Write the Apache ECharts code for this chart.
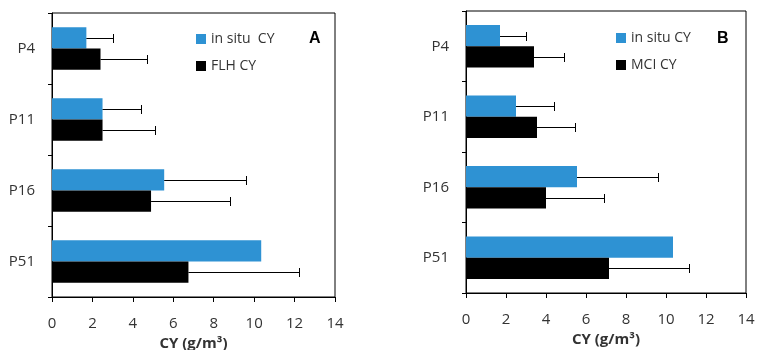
<!DOCTYPE html>
<html>
<head>
<meta charset="utf-8">
<script src="https://cdn.jsdelivr.net/npm/echarts@6/dist/echarts.min.js"></script>
<style>html,body{margin:0;padding:0;background:#fff}#c{width:757px;height:350px}</style>
</head>
<body>
<div id="c"></div>
<script>
var categories = ['P4', 'P11', 'P16', 'P51'];
var xTicks = [0, 2, 4, 6, 8, 10, 12, 14];
var inSitu = [1.7, 2.5, 5.55, 10.35];
var inSituErr = [3.0, 4.4, 9.6, null];
var flh = [2.4, 2.5, 4.9, 6.75];
var flhErr = [4.7, 5.1, 8.8, 12.2];
var mci = [3.4, 3.55, 4.0, 7.15];
var mciErr = [4.9, 5.45, 6.9, 11.15];

var FONT = 'Open Sans';
var BLUE = '#2e92d3';

function errData(vals, errs) {
  var out = [];
  for (var i = 0; i < vals.length; i++) {
    if (errs[i] != null) out.push([vals[i], i, errs[i]]);
  }
  return out;
}
function errRender(sign) {
  return function (params, api) {
    var v = api.value(0), cat = api.value(1), e = api.value(2);
    var p0 = api.coord([v, cat]);
    var p1 = api.coord([e, cat]);
    var band = api.size([0, 1])[1];
    var y = Math.round(p0[1] + sign * band * 0.15) + 0.5;
    var x1 = Math.round(p1[0]) + 0.5;
    var cap = 4.5;
    return {
      type: 'group',
      children: [
        {type: 'line', shape: {x1: p0[0], y1: y, x2: x1, y2: y}, style: {stroke: '#000', lineWidth: 1}},
        {type: 'line', shape: {x1: x1, y1: y - cap, x2: x1, y2: y + cap}, style: {stroke: '#000', lineWidth: 1}}
      ]
    };
  };
}

function xAx(idx, gap) {
  return {
    type: 'value', gridIndex: idx, min: xTicks[0], max: xTicks[xTicks.length - 1], interval: 2,
    axisLine: {show: true, lineStyle: {color: '#000', width: 1}},
    axisTick: {show: true, length: 5, lineStyle: {color: '#000'}},
    splitLine: {show: false},
    axisLabel: {color: '#333', fontFamily: FONT, fontSize: 15, margin: 19},
    name: 'CY (g/m³)', nameLocation: 'middle', nameGap: gap,
    nameTextStyle: {color: '#333', fontFamily: FONT, fontSize: 15, fontWeight: 'bold'}
  };
}
function yAx(idx) {
  return {
    type: 'category', gridIndex: idx, data: categories, inverse: true,
    axisLine: {show: true, lineStyle: {color: '#000', width: 1}},
    axisTick: {show: true, length: 4, lineStyle: {color: '#000'}},
    axisLabel: {color: '#333', fontFamily: FONT, fontSize: 15, margin: 17}
  };
}

var chart = echarts.init(document.getElementById('c'));
chart.setOption({
  animation: false,
  backgroundColor: '#fff',
  title: [
    {text: 'A', left: 304, top: 26, textStyle: {fontFamily: 'Liberation Sans', fontSize: 16, fontWeight: 'bold', color: '#000'}},
    {text: 'B', left: 712, top: 26, textStyle: {fontFamily: 'Liberation Sans', fontSize: 16, fontWeight: 'bold', color: '#000'}}
  ],
  grid: [
    {left: 52, top: 13, width: 283, height: 284, outerBoundsMode: 'none', containLabel: false, show: true, borderColor: '#000', borderWidth: 1, backgroundColor: 'transparent'},
    {left: 466, top: 11, width: 280, height: 282, outerBoundsMode: 'none', containLabel: false, show: true, borderColor: '#000', borderWidth: 1, backgroundColor: 'transparent'}
  ],
  legend: [
    {data: ['in situ  CY', 'FLH CY'], orient: 'vertical', left: 191, top: 27, itemWidth: 10, itemHeight: 10, itemGap: 13, itemTextGap: 4, icon: 'rect',
     textStyle: {fontFamily: FONT, fontSize: 14, color: '#333'}, selectedMode: false},
    {data: ['in situ CY ', 'MCI CY'], orient: 'vertical', left: 611, top: 26, itemWidth: 10, itemHeight: 10, itemGap: 13, itemTextGap: 3, icon: 'rect',
     textStyle: {fontFamily: FONT, fontSize: 14, color: '#333'}, selectedMode: false}
  ],
  xAxis: [xAx(0, 36), xAx(1, 35)],
  yAxis: [yAx(0), yAx(1)],
  series: [
    {name: 'in situ  CY', type: 'bar', xAxisIndex: 0, yAxisIndex: 0, data: inSitu, itemStyle: {color: BLUE}, barGap: '0%', barCategoryGap: '40%'},
    {name: 'FLH CY', type: 'bar', xAxisIndex: 0, yAxisIndex: 0, data: flh, itemStyle: {color: '#000'}, barGap: '0%', barCategoryGap: '40%'},
    {type: 'custom', xAxisIndex: 0, yAxisIndex: 0, renderItem: errRender(-1), data: errData(inSitu, inSituErr), encode: {x: [0, 2], y: 1}, z: 5},
    {type: 'custom', xAxisIndex: 0, yAxisIndex: 0, renderItem: errRender(1), data: errData(flh, flhErr), encode: {x: [0, 2], y: 1}, z: 5},
    {name: 'in situ CY ', type: 'bar', xAxisIndex: 1, yAxisIndex: 1, data: inSitu, itemStyle: {color: BLUE}, barGap: '0%', barCategoryGap: '40%'},
    {name: 'MCI CY', type: 'bar', xAxisIndex: 1, yAxisIndex: 1, data: mci, itemStyle: {color: '#000'}, barGap: '0%', barCategoryGap: '40%'},
    {type: 'custom', xAxisIndex: 1, yAxisIndex: 1, renderItem: errRender(-1), data: errData(inSitu, inSituErr), encode: {x: [0, 2], y: 1}, z: 5},
    {type: 'custom', xAxisIndex: 1, yAxisIndex: 1, renderItem: errRender(1), data: errData(mci, mciErr), encode: {x: [0, 2], y: 1}, z: 5}
  ]
});
</script>
</body>
</html>
